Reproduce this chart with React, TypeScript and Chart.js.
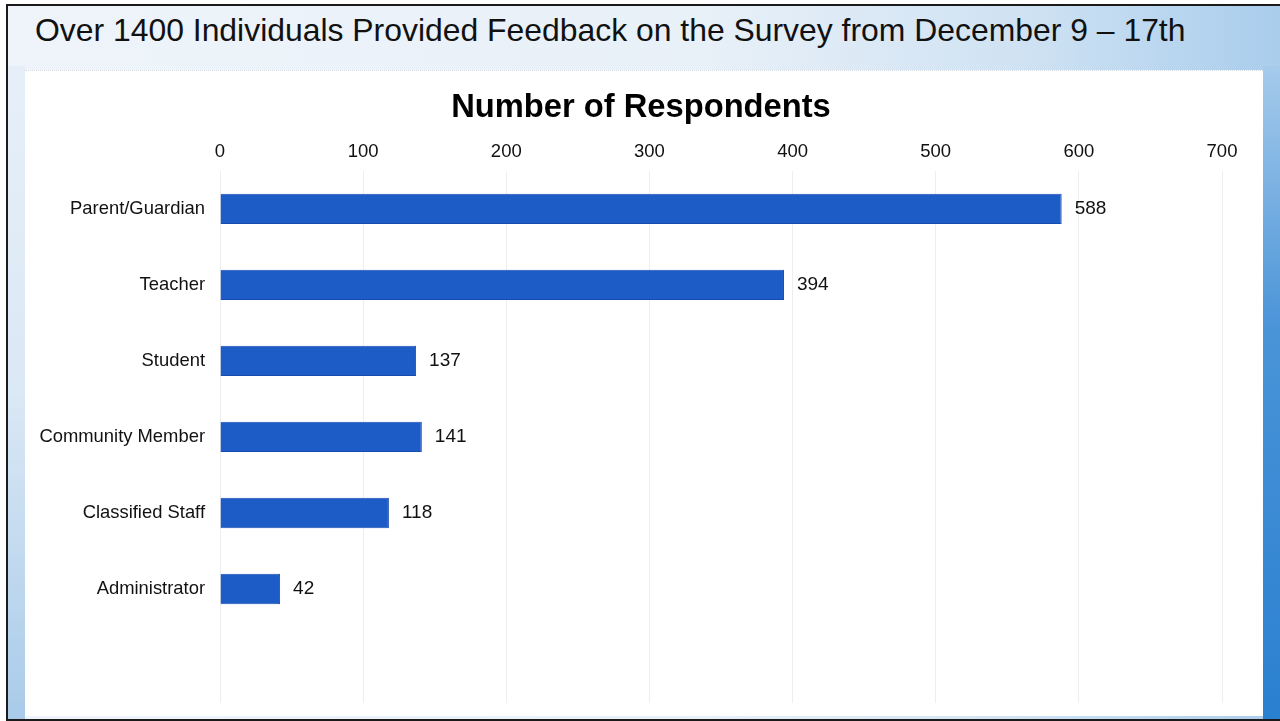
import React, { useEffect, useRef } from "react";
import { Chart, registerables } from "chart.js";

Chart.register(...registerables);

const pageTitle = "Over 1400 Individuals Provided Feedback on the Survey from December 9 – 17th";
const chartTitle = "Number of Respondents";
const categories = ["Parent/Guardian", "Teacher", "Student", "Community Member", "Classified Staff", "Administrator"];
const respondents = [588, 394, 137, 141, 118, 42];
const axisMin = 0;
const axisMax = 700;
const axisStep = 100;

const FONT = "'Liberation Sans', Arial, sans-serif";

const valueLabels = {
  id: "valueLabels",
  afterDatasetsDraw(chart: any) {
    const ctx = chart.ctx;
    const meta = chart.getDatasetMeta(0);
    ctx.save();
    ctx.font = `19px ${FONT}`;
    ctx.fillStyle = "#111";
    ctx.textAlign = "left";
    ctx.textBaseline = "middle";
    meta.data.forEach((el: any, i: number) => {
      const v = chart.data.datasets[0].data[i];
      if (v == null) return;
      ctx.fillText(String(v), el.x + 13, el.y);
    });
    ctx.restore();
  },
};

function RespondentsChart() {
  const ref = useRef<HTMLCanvasElement | null>(null);
  useEffect(() => {
    if (!ref.current) return;
    const chart = new Chart(ref.current, {
      type: "bar",
      data: {
        labels: [...categories, ""],
        datasets: [
          {
            data: respondents,
            backgroundColor: "#1D5BC6",
            borderColor: "#184DB0",
            borderWidth: 1,
            categoryPercentage: 1,
            barPercentage: 0.4,
          },
        ],
      },
      options: {
        indexAxis: "y",
        animation: false,
        responsive: false,
        maintainAspectRatio: false,
        layout: { padding: { left: 0, right: 6, top: 0, bottom: 14 } },
        plugins: {
          legend: { display: false },
          tooltip: { enabled: false },
          title: {
            display: true,
            text: chartTitle,
            color: "#000",
            font: { family: FONT, size: 32.7, weight: "bold" },
            padding: { top: 17, bottom: 5 },
          },
        },
        scales: {
          x: {
            position: "top",
            min: axisMin,
            max: axisMax,
            ticks: {
              stepSize: axisStep,
              color: "#111",
              padding: 8,
              font: { family: FONT, size: 18.5 },
            },
            grid: { color: "#eeeeee", drawTicks: false },
            border: { display: false },
            afterFit(scale: any) {
              scale.height = 38.6;
            },
          },
          y: {
            ticks: {
              color: "#111",
              padding: 15,
              font: { family: FONT, size: 18.4 },
            },
            grid: { display: false, drawTicks: false },
            border: { display: false },
            afterFit(scale: any) {
              scale.width = 195;
              scale.paddingTop = 0;
              scale.paddingBottom = 0;
            },
          },
          yRight: {
            type: "category",
            position: "right",
            ticks: { display: false },
            grid: { display: false, drawTicks: false },
            border: { display: false },
            afterFit(scale: any) {
              scale.width = 35;
              scale.paddingTop = 0;
              scale.paddingBottom = 0;
            },
          },
        },
      },
      plugins: [valueLabels],
    });
    return () => chart.destroy();
  }, []);
  return <canvas ref={ref} width={1238} height={646} style={{ display: "block" }} />;
}

export default function App() {
  return (
    <div
      style={{
        position: "fixed",
        left: 0,
        top: 0,
        width: 1280,
        height: 721,
        background: "#ffffff",
        overflow: "hidden",
      }}
    >
      <div
        style={{
          position: "absolute",
          left: 6,
          top: 4,
          width: 1272,
          height: 713,
          border: "2px solid #1a1a1a",
          borderRight: "none",
          background: "linear-gradient(to right, #eef4fa 0%, #e8f0f8 55%, #cfe2f3 80%, #a9cdec 100%)",
        }}
      >
        <div
          style={{
            position: "absolute",
            left: 0,
            top: 60,
            width: 17,
            bottom: 0,
            background: "linear-gradient(to bottom, #e6eff8 0%, #dbe8f5 50%, #a9cbe9 100%)",
          }}
        />
        <div
          style={{
            position: "absolute",
            left: 1255,
            top: 60,
            width: 17,
            bottom: 0,
            background: "linear-gradient(to bottom, #a6cbeb 0%, #4a94d8 40%, #2a80d0 100%)",
          }}
        />
        <div
          style={{
            position: "absolute",
            left: 27,
            top: 4,
            fontFamily: FONT,
            fontSize: 31.9,
            color: "#111",
            whiteSpace: "nowrap",
            lineHeight: "40px",
          }}
        >
          {pageTitle}
        </div>
      </div>
      <div
        style={{
          position: "absolute",
          left: 25,
          top: 70,
          width: 1238,
          height: 646,
          background: "#ffffff",
          borderTop: "1px dotted #d8dde3",
          boxSizing: "border-box",
        }}
      >
        <RespondentsChart />
      </div>
    </div>
  );
}
